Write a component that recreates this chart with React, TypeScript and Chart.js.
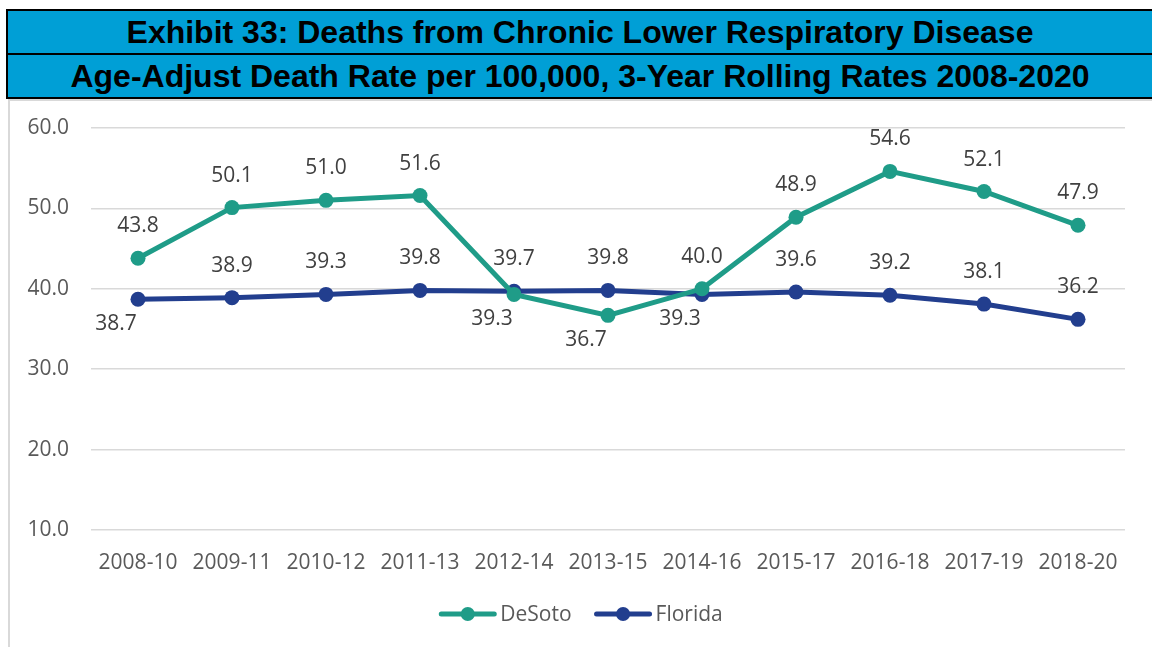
import React, { useEffect, useRef } from "react";
import { Chart, registerables } from "chart.js";

Chart.register(...registerables);

const TITLE_1 = "Exhibit 33: Deaths from Chronic Lower Respiratory Disease";
const TITLE_2 = "Age-Adjust Death Rate per 100,000, 3-Year Rolling Rates 2008-2020";

const categories = [
  "2008-10", "2009-11", "2010-12", "2011-13", "2012-14", "2013-15",
  "2014-16", "2015-17", "2016-18", "2017-19", "2018-20",
];
const desotoValues = [43.8, 50.1, 51.0, 51.6, 39.3, 36.7, 40.0, 48.9, 54.6, 52.1, 47.9];
const floridaValues = [38.7, 38.9, 39.3, 39.8, 39.7, 39.8, 39.3, 39.6, 39.2, 38.1, 36.2];
const desotoLabelPlace = ["above", "above", "above", "above", "below", "below", "above", "above", "above", "above", "above"];
const floridaLabelPlace = ["below", "above", "above", "above", "above", "above", "below", "above", "above", "above", "above"];
const yTicks = [10, 20, 30, 40, 50, 60];

const DESOTO_COLOR = "#1F9C88";
const FLORIDA_COLOR = "#223E8E";
const FONT = "'Open Sans', sans-serif";
const TEXT_COLOR = "#595959";
const LABEL_COLOR = "#404040";

const labelPlugin = {
  id: "pointLabels",
  afterDatasetsDraw(chart: any) {
    const ctx = chart.ctx;
    ctx.save();
    ctx.font = `21px ${FONT}`;
    ctx.fillStyle = LABEL_COLOR;
    ctx.textAlign = "center";
    ctx.textBaseline = "middle";
    chart.data.datasets.forEach((ds: any, di: number) => {
      const meta = chart.getDatasetMeta(di);
      meta.data.forEach((pt: any, i: number) => {
        const place = ds.labelPlace[i];
        const dx = place === "below" ? -22 : 0;
        const dy = place === "below" ? 25 : -32;
        ctx.fillText(ds.data[i].toFixed(1), pt.x + dx, pt.y + dy);
      });
    });
    ctx.restore();
  },
};

const legendPlugin = {
  id: "customLegend",
  afterDraw(chart: any) {
    const ctx = chart.ctx;
    ctx.save();
    ctx.font = `21px ${FONT}`;
    const lineLen = 57;
    const textGap = 4;
    const itemGap = 23;
    const items = chart.data.datasets.map((ds: any) => ({
      label: ds.label,
      color: ds.borderColor,
      w: ctx.measureText(ds.label).width,
    }));
    const total = items.reduce((s: number, it: any) => s + lineLen + textGap + it.w, 0) + itemGap * (items.length - 1);
    let x = chart.width / 2 - total / 2;
    const y = chart.height - 33;
    items.forEach((it: any) => {
      ctx.strokeStyle = it.color;
      ctx.lineWidth = 5;
      ctx.lineCap = "round";
      ctx.beginPath();
      ctx.moveTo(x + 2, y);
      ctx.lineTo(x + lineLen - 2, y);
      ctx.stroke();
      ctx.fillStyle = it.color;
      ctx.beginPath();
      ctx.arc(x + lineLen / 2, y, 7, 0, Math.PI * 2);
      ctx.fill();
      ctx.fillStyle = TEXT_COLOR;
      ctx.textAlign = "left";
      ctx.textBaseline = "middle";
      ctx.fillText(it.label, x + lineLen + textGap, y + 1);
      x += lineLen + textGap + it.w + itemGap;
    });
    ctx.restore();
  },
};

export default function App() {
  const canvasRef = useRef<HTMLCanvasElement | null>(null);

  useEffect(() => {
    if (!canvasRef.current) return;
    const chart = new Chart(canvasRef.current, {
      type: "line",
      data: {
        labels: categories,
        datasets: [
          {
            label: "DeSoto",
            data: desotoValues,
            borderColor: DESOTO_COLOR,
            backgroundColor: DESOTO_COLOR,
            borderWidth: 5,
            pointRadius: 7.5,
            pointHoverRadius: 7.5,
            pointBorderWidth: 0,
            tension: 0,
            labelPlace: desotoLabelPlace,
          } as any,
          {
            label: "Florida",
            data: floridaValues,
            borderColor: FLORIDA_COLOR,
            backgroundColor: FLORIDA_COLOR,
            borderWidth: 5,
            pointRadius: 7.5,
            pointHoverRadius: 7.5,
            pointBorderWidth: 0,
            tension: 0,
            labelPlace: floridaLabelPlace,
          } as any,
        ],
      },
      options: {
        animation: false,
        responsive: false,
        maintainAspectRatio: false,
        layout: { padding: { top: 27, right: 27, left: 0, bottom: 0 } },
        plugins: {
          legend: { display: false },
          tooltip: { enabled: false },
          title: { display: false },
        },
        scales: {
          x: {
            offset: true,
            grid: { display: false, drawTicks: false },
            border: { display: false },
            ticks: {
              color: TEXT_COLOR,
              font: { family: FONT, size: 21 },
              padding: 20,
              maxRotation: 0,
              autoSkip: false,
            },
            afterFit(scale: any) {
              scale.height = 117;
              scale.paddingLeft = 0;
              scale.paddingRight = 0;
            },
          },
          y: {
            min: 10,
            max: 60,
            afterBuildTicks(scale: any) {
              scale.ticks = yTicks.map((v) => ({ value: v }));
            },
            grid: { color: "#D9D9D9", lineWidth: 1.5, drawTicks: false },
            border: { display: false },
            ticks: {
              color: TEXT_COLOR,
              font: { family: FONT, size: 21 },
              padding: 22,
              callback: (v: any) => Number(v).toFixed(1),
            },
            afterFit(scale: any) {
              scale.width = 81;
              scale.paddingTop = 0;
              scale.paddingBottom = 0;
            },
          },
        },
      },
      plugins: [labelPlugin, legendPlugin],
    });
    return () => chart.destroy();
  }, []);

  const titleRow: React.CSSProperties = {
    background: "#009FD6",
    color: "#000",
    fontFamily: "'Liberation Sans', Arial, sans-serif",
    fontWeight: "bold",
    fontSize: 32,
    textAlign: "center",
    lineHeight: "42px",
    height: 42,
    paddingRight: 12,
    whiteSpace: "nowrap",
  };

  return (
    <div style={{ position: "absolute", left: 0, top: 0, width: 1152, height: 647, overflow: "hidden", background: "#fff" }}>
      <div
        style={{
          position: "absolute",
          left: 6,
          top: 9,
          width: 1160,
          border: "2px solid #000",
          boxSizing: "border-box",
        }}
      >
        <div style={{ ...titleRow, borderBottom: "2px solid #000" }}>{TITLE_1}</div>
        <div style={titleRow}>{TITLE_2}</div>
      </div>
      <div
        style={{
          position: "absolute",
          left: 8,
          top: 99,
          width: 1160,
          height: 560,
          border: "2px solid #D9D9D9",
          boxSizing: "border-box",
        }}
      />
      <canvas
        ref={canvasRef}
        width={1142}
        height={546}
        style={{ position: "absolute", left: 10, top: 101, width: 1142, height: 546 }}
      />
    </div>
  );
}
